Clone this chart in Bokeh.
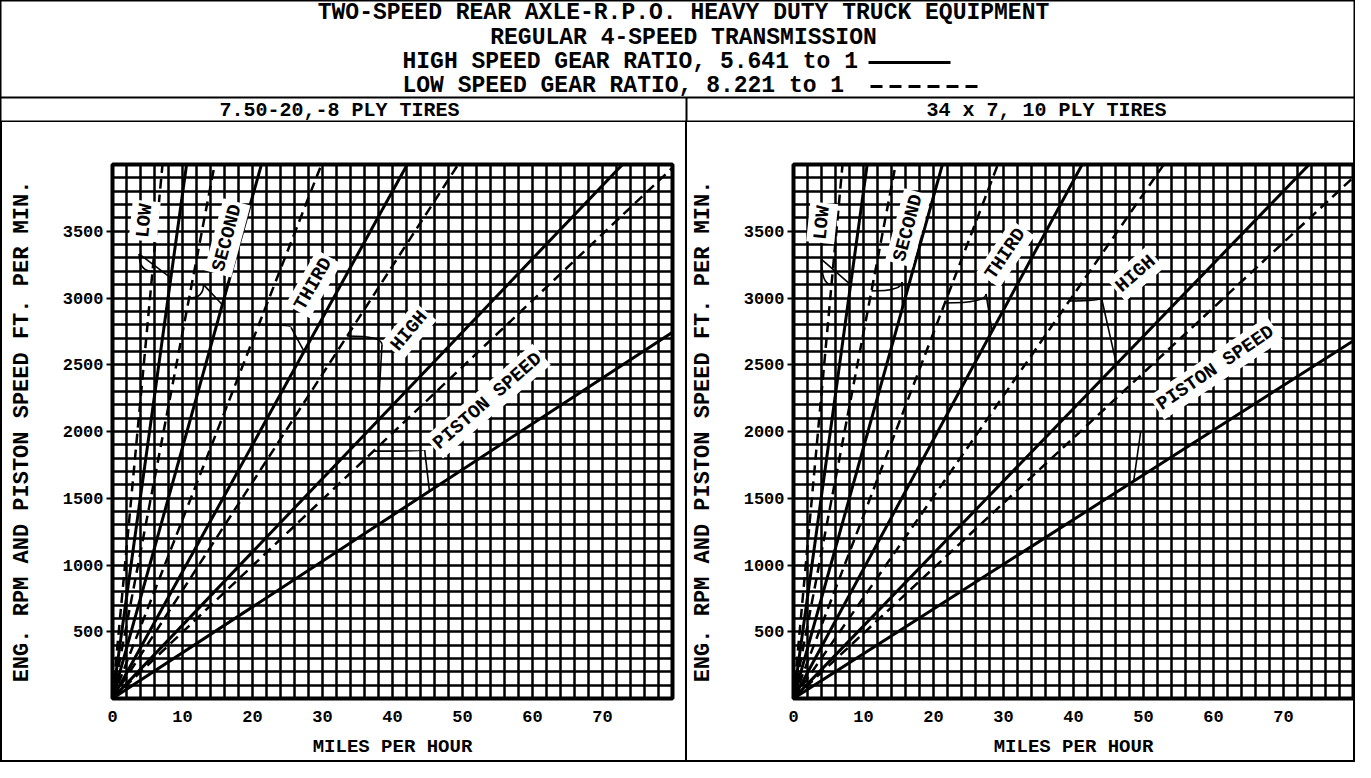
from bokeh.plotting import figure
from bokeh.models import Range1d, FixedTicker, SingleIntervalTicker, Label, ColumnDataSource
from bokeh.layouts import column, row
from bokeh.embed import file_html
from bokeh.resources import INLINE
from bokeh.core.properties import value

FONT = "Liberation Mono"

# ---------------- data ----------------
title_lines = ["TWO-SPEED REAR AXLE-R.P.O. HEAVY DUTY TRUCK EQUIPMENT",
               "REGULAR 4-SPEED TRANSMISSION"]
ratio_lines = ["HIGH SPEED GEAR RATIO, 5.641 to 1",
               "LOW SPEED GEAR RATIO, 8.221 to 1"]
panel_titles = ["7.50-20,-8 PLY TIRES", "34 x 7, 10 PLY TIRES"]

gear_labels = ["LOW", "SECOND", "THIRD", "HIGH", "PISTON SPEED"]

# engine rpm (piston speed ft/min for last item) per mph
left_high_ratio = [378, 188, 95, 54.9, 34.3]
left_low_ratio = [560, 274, 134, 81.0, 49.7]
right_high_ratio = [380, 188, 97, 54.3, 33.5]
right_low_ratio = [571, 274, 137, 75.6, 48.8]

mph_ticks = [0, 10, 20, 30, 40, 50, 60, 70]
rpm_ticks = [500, 1000, 1500, 2000, 2500, 3000, 3500]
mph_max = 80
rpm_max = 4000

# label anchors (mph, rpm, angle)
left_label_mph = [4.6, 16.4, 28.7, 42.4, 53.6]
left_label_rpm = [3578, 3450, 3105, 2753, 2228]
left_label_angle = [84, 75, 60, 50, 41]
right_label_mph = [4.1, 16.4, 30.3, 48.9, 60.3]
right_label_rpm = [3563, 3525, 3330, 3180, 2475]
right_label_angle = [84, 75, 56, 41, 34]

# brace pointers: tip near label, and rpm where it touches each line
left_brace_tip_mph = [3.8, 13.0, 25.5, 38.5, 44.6]
left_brace_tip_rpm = [3330, 3100, 2780, 2650, 1860]
left_brace_low_rpm = [3200, 3000, 2800, 2715, 1853]
left_brace_high_rpm = [3150, 2950, 2600, 2078, 1553]
right_brace_tip_mph = [4.0, 15.5, 27.5, 44.0, 49.6]
right_brace_tip_rpm = [3290, 3120, 3030, 3000, 2000]
right_brace_low_rpm = [3100, 3053, 2963, 2978, 2003]
right_brace_high_rpm = [3100, 2925, 2752, 2505, 1628]


# ---------------- header ----------------
HW, HH = 1355, 122
h = figure(width=HW, height=HH, x_range=Range1d(0, HW), y_range=Range1d(HH, 0),
           x_axis_type=None, y_axis_type=None, min_border=0,
           output_backend="svg", toolbar_location=None)
h.grid.visible = False
h.outline_line_color = "black"
h.outline_line_width = 2
h.background_fill_color = "white"
h.border_fill_color = "white"

h.text(x=[683, 683], y=[12, 37], text=title_lines, text_align="center",
       text_baseline="middle", text_font=value(FONT), text_font_style="bold",
       text_font_size=value("23px"), text_color="black")
h.text(x=[402, 402], y=[61, 85], text=ratio_lines, text_align="left",
       text_baseline="middle", text_font=value(FONT), text_font_style="bold",
       text_font_size=value("23px"), text_color="black")
# legend samples
h.line([868, 950], [62, 62], line_color="black", line_width=3)
h.line([870, 978], [86, 86], line_color="black", line_width=3, line_dash="12 7")
# band separators
h.line([0, HW], [97, 97], line_color="black", line_width=2)
h.line([686, 686], [97, HH], line_color="black", line_width=2)
h.text(x=[339, 1046], y=[109.5, 109.5], text=panel_titles, text_align="center",
       text_baseline="middle", text_font=value(FONT), text_font_style="bold",
       text_font_size=value("20px"), text_color="black")


# ---------------- panels ----------------
def make_panel(width, mb_left, mb_right, high, low, lab_x, lab_y, lab_ang,
               tip_x, tip_y, b_low, b_high, css):
    p = figure(width=width, height=640,
               x_range=Range1d(0, mph_max), y_range=Range1d(0, rpm_max),
               min_border_left=mb_left, min_border_right=mb_right,
               min_border_top=42, min_border_bottom=64,
               output_backend="svg", toolbar_location=None, styles=css)
    p.background_fill_color = "white"
    p.border_fill_color = "white"
    p.outline_line_color = "black"
    p.outline_line_width = 4

    p.xgrid.ticker = SingleIntervalTicker(interval=2, num_minor_ticks=0)
    p.ygrid.ticker = SingleIntervalTicker(interval=100, num_minor_ticks=0)
    for g in (p.xgrid, p.ygrid):
        g.grid_line_color = "black"
        g.grid_line_width = 2.5
        g.grid_line_alpha = 1.0

    p.xaxis.ticker = FixedTicker(ticks=mph_ticks)
    p.yaxis.ticker = FixedTicker(ticks=rpm_ticks)
    for ax in (p.xaxis, p.yaxis):
        ax.axis_line_color = None
        ax.minor_tick_line_color = None
        ax.major_label_text_font = FONT
        ax.major_label_text_font_style = "bold"
        ax.major_label_text_font_size = "17px"
        ax.major_label_text_color = "black"
        ax.axis_label_text_font = FONT
        ax.axis_label_text_font_style = "bold"
        ax.axis_label_text_color = "black"
    p.xaxis.major_tick_line_color = None
    p.xaxis.major_label_standoff = 6
    p.xaxis.axis_label = "MILES PER HOUR"
    p.xaxis.axis_label_text_font_size = "19px"
    p.xaxis.axis_label_standoff = 11
    p.yaxis.major_tick_in = 0
    p.yaxis.major_tick_out = 6
    p.yaxis.major_tick_line_color = "black"
    p.yaxis.major_tick_line_width = 2
    p.yaxis.major_label_standoff = 3
    p.yaxis.axis_label = "ENG. RPM AND PISTON SPEED FT. PER MIN."
    p.yaxis.axis_label_text_font_size = "22px"
    p.yaxis.axis_label_standoff = 25

    mph = [0, mph_max]
    for s in high:
        src = ColumnDataSource(dict(mph=mph, rpm=[s * m for m in mph]))
        p.line("mph", "rpm", source=src, line_color="black", line_width=3)
    for s in low:
        src = ColumnDataSource(dict(mph=mph, rpm=[s * m for m in mph]))
        p.line("mph", "rpm", source=src, line_color="black", line_width=2.5,
               line_dash="10 6")

    # braces from label to the two lines of the pair
    for i in range(len(gear_labels)):
        dx, dy = b_low[i] / low[i], b_low[i]
        sx, sy = b_high[i] / high[i], b_high[i]
        tx, ty = tip_x[i], tip_y[i]
        p.quadratic(x0=[dx], y0=[dy], x1=[tx], y1=[ty], cx=[tx], cy=[dy],
                    line_color="black", line_width=1.6)
        p.quadratic(x0=[tx], y0=[ty], x1=[sx], y1=[sy],
                    cx=[tx + 0.4 * (sx - tx)], cy=[sy + 0.6 * (ty - sy)],
                    line_color="black", line_width=1.6)

    for i, name in enumerate(gear_labels):
        p.add_layout(Label(x=lab_x[i], y=lab_y[i], text=name, angle=lab_ang[i],
                           angle_units="deg", text_align="center",
                           text_baseline="middle", text_font=FONT,
                           text_font_style="bold", text_font_size="19px",
                           text_color="black", background_fill_color="white",
                           padding=3))
    return p


left_css = {"border-left": "2px solid black", "border-right": "1px solid black",
            "border-bottom": "2px solid black", "box-sizing": "border-box"}
right_css = {"border-left": "1px solid black", "border-right": "2px solid black",
             "border-bottom": "2px solid black", "box-sizing": "border-box"}

left = make_panel(686, 110, 16, left_high_ratio, left_low_ratio,
                  left_label_mph, left_label_rpm, left_label_angle,
                  left_brace_tip_mph, left_brace_tip_rpm,
                  left_brace_low_rpm, left_brace_high_rpm, left_css)
right = make_panel(669, 106, 3, right_high_ratio, right_low_ratio,
                   right_label_mph, right_label_rpm, right_label_angle,
                   right_brace_tip_mph, right_brace_tip_rpm,
                   right_brace_low_rpm, right_brace_high_rpm, right_css)

layout = column(h, row(left, right, spacing=0), spacing=0)

open("out.html", "w").write(file_html(layout, INLINE, title="Two-speed rear axle chart"))
